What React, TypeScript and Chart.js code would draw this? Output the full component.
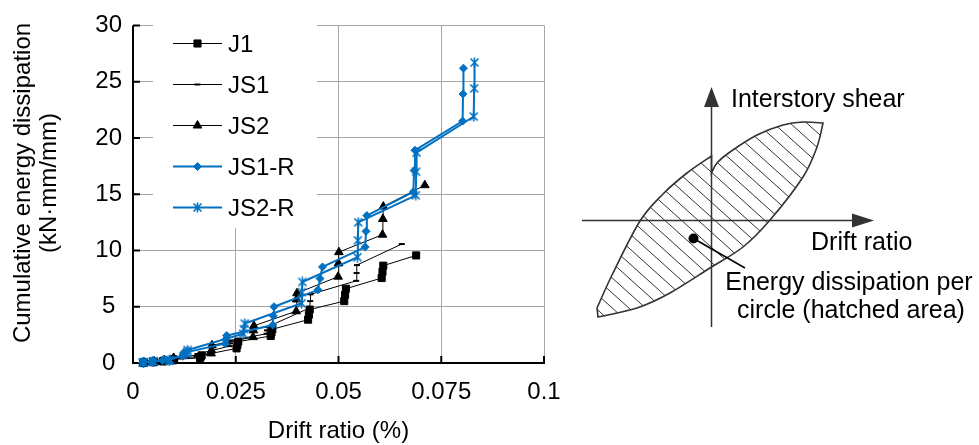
import React, { useEffect, useRef } from 'react';
import { Chart, registerables } from 'chart.js';
import { drawPoint } from 'chart.js/helpers';

Chart.register(...registerables);

// ---------- data ----------
const SERIES_NAMES = ['J1', 'JS1', 'JS2', 'JS1-R', 'JS2-R'];

const J1_X = [0.0025, 0.0026, 0.0027, 0.005, 0.0051, 0.0052, 0.0073, 0.0074, 0.0075, 0.0097, 0.0098, 0.0099,
  0.0163, 0.0165, 0.0167, 0.0252, 0.0254, 0.0256, 0.0335, 0.0337, 0.0339, 0.0426, 0.0428, 0.043,
  0.0514, 0.0516, 0.0518, 0.0605, 0.0607, 0.0609, 0.0689];
const J1_Y = [0.02, 0.03, 0.04, 0.07, 0.09, 0.11, 0.14, 0.17, 0.2, 0.24, 0.28, 0.32,
  0.45, 0.56, 0.68, 1.3, 1.6, 1.9, 2.4, 2.7, 3.0, 3.85, 4.3, 4.75,
  5.5, 6.05, 6.6, 7.55, 8.1, 8.65, 9.56];

const JS1_X = [0.0025, 0.0026, 0.0027, 0.0049, 0.005, 0.0051, 0.0074, 0.0075, 0.0076, 0.0099, 0.01, 0.0101,
  0.0155, 0.0156, 0.0157, 0.0235, 0.0236, 0.0237, 0.0325, 0.0326, 0.0327, 0.043, 0.0431, 0.0432,
  0.0543, 0.0544, 0.0545, 0.0654];
const JS1_Y = [0.02, 0.03, 0.04, 0.08, 0.1, 0.12, 0.16, 0.19, 0.22, 0.28, 0.33, 0.38,
  0.55, 0.68, 0.8, 1.5, 1.75, 2.0, 2.6, 2.9, 3.2, 4.9, 5.5, 6.1,
  7.3, 8.0, 8.7, 10.57];

const JS2_X = [0.0025, 0.0026, 0.0027, 0.005, 0.0051, 0.0052, 0.0074, 0.0075, 0.0076, 0.0097, 0.0098, 0.0099,
  0.019, 0.0191, 0.0192, 0.0292, 0.0293, 0.0294, 0.0397, 0.0398, 0.0399, 0.0499, 0.05, 0.0501,
  0.0607, 0.0608, 0.0609, 0.071];
const JS2_Y = [0.02, 0.03, 0.04, 0.08, 0.1, 0.12, 0.16, 0.2, 0.24, 0.3, 0.38, 0.45,
  0.85, 1.13, 1.57, 2.3, 2.9, 3.3, 4.6, 5.65, 6.2, 7.67, 8.85, 9.85,
  11.4, 12.8, 13.9, 15.8];

const JS1R_X = [0.0024, 0.0025, 0.0026, 0.0045, 0.0046, 0.0047, 0.0072, 0.0073, 0.0074, 0.0121, 0.0122, 0.0123,
  0.0224, 0.0226, 0.0228, 0.034, 0.0341, 0.0343, 0.045, 0.0455, 0.0461, 0.0565, 0.0567, 0.0569,
  0.0682, 0.0684, 0.0686, 0.0802, 0.0803, 0.0804];
const JS1R_Y = [0.03, 0.05, 0.07, 0.1, 0.13, 0.16, 0.22, 0.26, 0.3, 0.6, 0.75, 0.9,
  1.72, 2.1, 2.44, 3.37, 4.2, 5.0, 6.5, 7.5, 8.54, 10.3, 11.7, 13.1,
  15.2, 17.1, 18.9, 21.5, 23.9, 26.2];

const JS2R_X = [0.0024, 0.0025, 0.0026, 0.0048, 0.0049, 0.005, 0.0088, 0.0089, 0.009, 0.0131, 0.0132, 0.0133,
  0.0268, 0.027, 0.0272, 0.041, 0.0411, 0.0412, 0.0546, 0.0547, 0.0548,
  0.0688, 0.0689, 0.069, 0.0829, 0.083, 0.0831];
const JS2R_Y = [0.03, 0.05, 0.07, 0.1, 0.13, 0.16, 0.2, 0.24, 0.28, 0.8, 1.0, 1.15,
  2.6, 3.0, 3.5, 5.3, 6.3, 7.2, 9.4, 10.9, 12.5,
  14.9, 17.0, 18.7, 21.9, 24.4, 26.7];

const X_TICKS = [0, 0.025, 0.05, 0.075, 0.1];
const X_TICK_LABELS = ['0', '0.025', '0.05', '0.075', '0.1'];
const Y_TICKS = [0, 5, 10, 15, 20, 25, 30];
const Y_TICK_LABELS = ['0', '5', '10', '15', '20', '25', '30'];

const X_TITLE = 'Drift ratio (%)';
const Y_TITLE = ['Cumulative energy dissipation', '(kN·mm/mm)'];

const DIAGRAM_Y_LABEL = 'Interstory shear';
const DIAGRAM_X_LABEL = 'Drift ratio';
const DIAGRAM_NOTE = ['Energy dissipation per', 'circle (hatched area)'];

// ---------- styles ----------
const FONT = '"Liberation Sans", Arial, sans-serif';
const BLUE = '#0070C0';
const BLACK = '#000000';
const GRID = '#a6a6a6';

function pts(xs: number[], ys: number[]) {
  return xs.map((x, i) => ({ x, y: ys[i] }));
}

function makeStar(color: string) {
  const c = document.createElement('canvas');
  c.width = 11;
  c.height = 11;
  const g = c.getContext('2d')!;
  g.strokeStyle = color;
  g.lineWidth = 1.6;
  g.beginPath();
  g.moveTo(1.5, 1.5); g.lineTo(9.5, 9.5);
  g.moveTo(9.5, 1.5); g.lineTo(1.5, 9.5);
  g.moveTo(5.5, 0.5); g.lineTo(5.5, 10.5);
  g.stroke();
  return c;
}

function smooth(ctx: CanvasRenderingContext2D, p: number[][], move: boolean) {
  if (move) ctx.moveTo(p[0][0], p[0][1]);
  else ctx.lineTo(p[0][0], p[0][1]);
  for (let i = 0; i < p.length - 1; i++) {
    const p0 = p[i - 1] || p[i];
    const p1 = p[i];
    const p2 = p[i + 1];
    const p3 = p[i + 2] || p2;
    ctx.bezierCurveTo(
      p1[0] + (p2[0] - p0[0]) / 6, p1[1] + (p2[1] - p0[1]) / 6,
      p2[0] - (p3[0] - p1[0]) / 6, p2[1] - (p3[1] - p1[1]) / 6,
      p2[0], p2[1]);
  }
}

export default function App() {
  const ref = useRef<HTMLCanvasElement>(null);

  useEffect(() => {
    const canvas = ref.current!;
    const star = makeStar(BLUE);

    const styles = [
      { color: BLACK, width: 1, pointStyle: 'rect' as any, radius: 5, bw: 1 },
      { color: BLACK, width: 1, pointStyle: 'line' as any, radius: 3, bw: 2 },
      { color: BLACK, width: 1, pointStyle: 'triangle' as any, radius: 5, bw: 1 },
      { color: BLUE, width: 2, pointStyle: 'rectRot' as any, radius: 4, bw: 1 },
      { color: BLUE, width: 2, pointStyle: star as any, radius: 5, bw: 1 },
    ];
    const series = [pts(J1_X, J1_Y), pts(JS1_X, JS1_Y), pts(JS2_X, JS2_Y), pts(JS1R_X, JS1R_Y), pts(JS2R_X, JS2R_Y)];

    const decor = {
      id: 'decor',
      beforeDatasetsDraw(chart: any) {
        const { ctx, chartArea: a, scales } = chart;
        ctx.save();
        // legend box
        ctx.fillStyle = '#fff';
        ctx.fillRect(153, 20, 164, 208);
        SERIES_NAMES.forEach((name, i) => {
          const s = styles[i];
          const y = 43.5 + i * 41;
          ctx.strokeStyle = s.color;
          ctx.lineWidth = s.width;
          ctx.beginPath();
          ctx.moveTo(173, y);
          ctx.lineTo(222, y);
          ctx.stroke();
          ctx.fillStyle = s.color;
          ctx.strokeStyle = s.color;
          ctx.lineWidth = s.bw;
          drawPoint(ctx, { pointStyle: s.pointStyle, radius: s.radius, rotation: 0, borderWidth: s.bw } as any, 197.5, y);
          ctx.fillStyle = '#000';
          ctx.font = `24px ${FONT}`;
          ctx.textAlign = 'left';
          ctx.textBaseline = 'alphabetic';
          ctx.fillText(name, 228, y + 8.6);
        });
        // axes lines and inward ticks
        ctx.strokeStyle = '#000';
        ctx.lineWidth = 2;
        ctx.beginPath();
        ctx.moveTo(a.left, a.top);
        ctx.lineTo(a.left, a.bottom);
        ctx.lineTo(a.right + 1, a.bottom);
        Y_TICKS.forEach((v) => {
          const py = scales.y.getPixelForValue(v);
          ctx.moveTo(a.left, py);
          ctx.lineTo(a.left + 7, py);
        });
        X_TICKS.forEach((v) => {
          const px = scales.x.getPixelForValue(v);
          ctx.moveTo(px, a.bottom);
          ctx.lineTo(px, a.bottom - 7);
        });
        ctx.stroke();
        ctx.restore();
      },
      afterDraw(chart: any) {
        const { ctx, chartArea: a } = chart;
        ctx.save();
        ctx.fillStyle = '#000';
        // axis titles
        ctx.font = `24px ${FONT}`;
        ctx.textAlign = 'center';
        ctx.textBaseline = 'alphabetic';
        ctx.fillText(X_TITLE, (a.left + a.right) / 2, 438);
        ctx.save();
        ctx.translate(0, 183);
        ctx.rotate(-Math.PI / 2);
        ctx.textBaseline = 'middle';
        ctx.fillText(Y_TITLE[0], 0, 23);
        ctx.fillText(Y_TITLE[1], 0, 49);
        ctx.restore();

        // ----- hysteresis diagram -----
        const UL = [[597, 308], [613, 273], [640, 221], [663, 194], [687, 173], [711.5, 156]];
        const UR = [[711.5, 173], [717, 163], [730, 152], [757, 135], [783, 125], [803, 122], [823, 123]];
        const LO = [[823, 123], [817, 147], [803, 177], [770, 220], [743, 247], [710, 268], [670, 293], [637, 308], [598, 317]];
        const shape = () => {
          ctx.beginPath();
          smooth(ctx, UL, true);
          smooth(ctx, UR, false);
          smooth(ctx, LO, false);
          ctx.closePath();
        };
        ctx.save();
        shape();
        ctx.clip();
        ctx.strokeStyle = '#333';
        ctx.lineWidth = 1;
        ctx.beginPath();
        for (let d = -320; d <= 260; d += 15) {
          ctx.moveTo(570, 110 + d);
          ctx.lineTo(840, 110 + d + 0.9 * 270);
        }
        ctx.stroke();
        ctx.restore();
        ctx.strokeStyle = '#333';
        ctx.lineWidth = 1.6;
        shape();
        ctx.stroke();

        // axes with arrows
        ctx.lineWidth = 1.5;
        ctx.beginPath();
        ctx.moveTo(582, 220.5);
        ctx.lineTo(856, 220.5);
        ctx.moveTo(711.5, 327);
        ctx.lineTo(711.5, 104);
        ctx.stroke();
        ctx.fillStyle = '#333';
        ctx.beginPath();
        ctx.moveTo(874, 220.5);
        ctx.lineTo(852, 213.5);
        ctx.lineTo(852, 227.5);
        ctx.closePath();
        ctx.fill();
        ctx.beginPath();
        ctx.moveTo(711.5, 87);
        ctx.lineTo(704, 107);
        ctx.lineTo(719, 107);
        ctx.closePath();
        ctx.fill();

        // dot and leader
        ctx.fillStyle = '#000';
        ctx.beginPath();
        ctx.arc(693.5, 238.5, 5, 0, Math.PI * 2);
        ctx.fill();
        ctx.strokeStyle = '#000';
        ctx.lineWidth = 1.5;
        ctx.beginPath();
        ctx.moveTo(693.5, 238.5);
        ctx.lineTo(745, 268);
        ctx.stroke();

        // diagram labels
        ctx.font = `25px ${FONT}`;
        ctx.textBaseline = 'alphabetic';
        ctx.textAlign = 'left';
        ctx.fillText(DIAGRAM_Y_LABEL, 731, 107);
        ctx.fillText(DIAGRAM_X_LABEL, 811, 250);
        ctx.textAlign = 'center';
        ctx.fillText(DIAGRAM_NOTE[0], 849, 290);
        ctx.fillText(DIAGRAM_NOTE[1], 851, 318);
        ctx.restore();
      },
    };

    const tickFont = { family: FONT, size: 24 };

    const chart = new Chart(canvas, {
      type: 'scatter',
      data: {
        datasets: series.map((data, i) => ({
          label: SERIES_NAMES[i],
          data,
          showLine: true,
          borderColor: styles[i].color,
          backgroundColor: styles[i].color,
          borderWidth: styles[i].width,
          pointStyle: styles[i].pointStyle,
          pointRadius: styles[i].radius,
          pointBorderWidth: styles[i].bw,
          pointBorderColor: styles[i].color,
          pointBackgroundColor: styles[i].color,
          clip: false as any,
          order: 5 - i,
        })),
      },
      options: {
        animation: false,
        responsive: false,
        devicePixelRatio: 1,
        layout: { padding: { left: 0, right: 435, top: 19, bottom: 0 } },
        plugins: { legend: { display: false }, tooltip: { enabled: false } },
        scales: {
          x: {
            type: 'linear',
            min: 0,
            max: 0.1,
            afterBuildTicks: (s: any) => { s.ticks = X_TICKS.map((v) => ({ value: v })); },
            afterFit: (s: any) => { s.height = 82; },
            grid: { color: GRID, lineWidth: 1, drawTicks: false },
            border: { display: false },
            ticks: {
              callback: (_v: any, i: number) => X_TICK_LABELS[i],
              font: tickFont,
              color: '#000',
              padding: 15,
              maxRotation: 0,
              autoSkip: false,
            },
          },
          y: {
            type: 'linear',
            min: 0,
            max: 30,
            afterBuildTicks: (s: any) => { s.ticks = Y_TICKS.map((v) => ({ value: v })); },
            afterFit: (s: any) => { s.width = 133; },
            grid: { color: GRID, lineWidth: 1, drawTicks: false },
            border: { display: false },
            ticks: {
              callback: (_v: any, i: number) => Y_TICK_LABELS[i],
              font: tickFont,
              color: '#000',
              padding: 11,
              crossAlign: 'center',
              autoSkip: false,
            },
          },
        },
      },
      plugins: [decor],
    });
    return () => chart.destroy();
  }, []);

  return (
    <div style={{ position: 'fixed', left: 0, top: 0, width: 979, height: 445, background: '#fff' }}>
      <canvas ref={ref} width={979} height={445} style={{ display: 'block', width: 979, height: 445 }} />
    </div>
  );
}
